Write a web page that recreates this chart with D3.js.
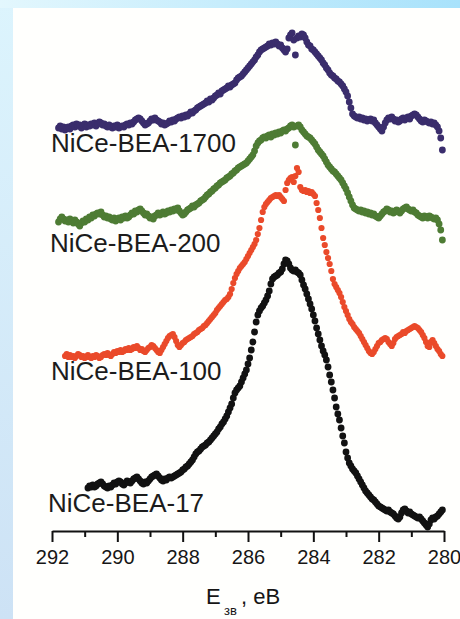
<!DOCTYPE html>
<html>
<head>
<meta charset="utf-8">
<script src="https://cdn.jsdelivr.net/npm/d3@7"></script>
<style>
  html, body { margin: 0; padding: 0; background: #fff; overflow: hidden; }
  svg { display: block; }
  text { font-family: "Liberation Sans", Arial, Helvetica, sans-serif; }
</style>
</head>
<body>
<svg id="chart" width="460" height="619"></svg>
<script>
// Binding energy grid of the C 1s scans, eV
const energy = [
  291.8,291.75,291.7,291.65,291.6,291.55,291.5,291.45,291.4,291.35,
  291.3,291.25,291.2,291.15,291.1,291.05,291,290.95,290.9,290.85,
  290.8,290.75,290.7,290.65,290.6,290.55,290.5,290.45,290.4,290.35,
  290.3,290.25,290.2,290.15,290.1,290.05,290,289.95,289.9,289.85,
  289.8,289.75,289.7,289.65,289.6,289.55,289.5,289.45,289.4,289.35,
  289.3,289.25,289.2,289.15,289.1,289.05,289,288.95,288.9,288.85,
  288.8,288.75,288.7,288.65,288.6,288.55,288.5,288.45,288.4,288.35,
  288.3,288.25,288.2,288.15,288.1,288.05,288,287.95,287.9,287.85,
  287.8,287.75,287.7,287.65,287.6,287.55,287.5,287.45,287.4,287.35,
  287.3,287.25,287.2,287.15,287.1,287.05,287,286.95,286.9,286.85,
  286.8,286.75,286.7,286.65,286.6,286.55,286.5,286.45,286.4,286.35,
  286.3,286.25,286.2,286.15,286.1,286.05,286,285.95,285.9,285.85,
  285.8,285.75,285.7,285.65,285.6,285.55,285.5,285.45,285.4,285.35,
  285.3,285.25,285.2,285.15,285.1,285.05,285,284.95,284.9,284.85,
  284.8,284.75,284.7,284.65,284.6,284.55,284.5,284.45,284.4,284.35,
  284.3,284.25,284.2,284.15,284.1,284.05,284,283.95,283.9,283.85,
  283.8,283.75,283.7,283.65,283.6,283.55,283.5,283.45,283.4,283.35,
  283.3,283.25,283.2,283.15,283.1,283.05,283,282.95,282.9,282.85,
  282.8,282.75,282.7,282.65,282.6,282.55,282.5,282.45,282.4,282.35,
  282.3,282.25,282.2,282.15,282.1,282.05,282,281.95,281.9,281.85,
  281.8,281.75,281.7,281.65,281.6,281.55,281.5,281.45,281.4,281.35,
  281.3,281.25,281.2,281.15,281.1,281.05,281,280.95,280.9,280.85,
  280.8,280.75,280.7,280.65,280.6,280.55,280.5,280.45,280.4,280.35,
  280.3,280.25,280.2,280.15,280.1,280.05
];

// Intensities (a.u., spectra stacked with vertical offsets); null = no point
const nice1700 = [
  403,405,402,404,401,403,404,402,405,406,
  404,407,405,406,403,405,407,404,406,405,
  407,406,408,405,407,409,408,406,407,405,
  404,406,404,403,405,404,406,403,404,405,
  404,406,407,406,408,407,409,411,412,413,
  412,410,408,406,407,408,410,412,411,413,
  411,410,409,407,408,406,407,408,410,409,
  411,410,412,413,414,413,415,414,416,415,
  417,419,418,420,421,423,424,425,426,427,
  428,430,429,432,431,433,435,436,438,437,
  440,441,442,443,445,444,446,447,448,451,
  453,454,455,457,459,461,463,465,467,469,
  471,474,476,479,481,482,483,484,485,487,
  486,488,487,489,487,485,486,483,481,479,
  482,493,496,498,491,476,493,495,494,497,
  496,493,489,486,485,482,481,479,477,475,
  473,471,468,466,463,461,458,456,455,453,
  452,450,449,447,445,442,439,435,429,423,
  417,415,414,413,414,412,413,411,412,410,
  411,412,410,411,408,406,404,402,400,404,
  408,411,413,412,414,412,410,411,409,410,
  412,413,411,413,414,412,415,416,417,416,
  414,412,410,409,411,410,409,408,409,407,
  408,406,404,400,393,381
];

const nice200 = [
  309,312,314,312,310,311,309,312,310,308,
  311,309,307,305,308,310,309,312,311,314,
  313,316,315,317,318,317,319,316,314,315,
  313,314,312,311,313,310,312,313,311,314,
  313,315,313,314,316,318,317,320,319,321,
  322,320,318,316,317,315,313,314,312,315,
  316,318,316,317,319,317,318,320,319,321,
  320,322,321,323,320,318,316,317,319,321,
  322,323,325,324,326,327,328,330,331,332,
  334,336,337,339,340,342,343,345,346,348,
  349,350,351,353,354,355,357,358,360,361,
  363,364,365,366,367,368,370,372,374,376,
  380,385,388,390,391,393,394,393,395,396,
  394,397,396,398,397,399,398,400,401,400,
  402,403,405,406,404,386,405,406,404,401,
  399,397,395,394,393,391,389,387,384,381,
  379,377,375,372,369,366,364,362,360,359,
  357,355,353,351,348,345,342,338,334,330,
  326,323,322,321,320,321,319,320,318,319,
  317,318,316,317,315,314,313,315,317,319,
  320,322,321,319,320,318,319,321,320,318,
  320,322,323,324,322,321,320,321,319,318,
  316,315,314,313,315,314,313,315,314,313,
  312,313,311,307,301,291
];

const nice100 = [
  null,null,null,null,175,177,174,176,174,175,
  173,175,177,176,174,175,173,174,176,174,
  173,175,174,176,175,173,174,176,177,176,
  178,176,175,177,179,178,180,179,181,179,
  180,182,181,183,181,182,184,183,185,183,
  181,182,180,179,181,183,184,186,185,183,
  181,179,178,181,184,187,190,193,195,196,
  197,194,190,186,184,186,188,189,191,192,
  193,194,195,197,198,199,201,202,203,205,
  206,208,210,212,214,216,218,221,223,225,
  227,229,231,232,234,237,242,248,253,257,
  260,263,265,267,269,272,275,278,281,284,
  287,291,297,303,311,319,324,327,329,331,
  333,334,335,336,335,336,334,332,330,341,
  348,351,353,354,349,355,363,359,344,341,
  340,341,339,340,338,339,337,335,328,321,
  313,303,293,286,279,273,267,260,252,247,
  244,241,238,234,229,224,220,216,212,209,
  207,204,202,200,198,195,192,189,186,183,
  180,178,177,179,182,185,188,189,191,192,
  193,192,189,187,185,188,192,194,195,196,
  197,199,198,200,201,202,203,204,205,204,
  203,201,199,196,193,189,185,184,189,191,
  188,185,182,180,177,175
];

const nice17 = [
  null,null,null,null,null,null,null,null,null,null,
  null,null,null,null,null,null,null,null,43,45,
  44,46,44,45,47,48,49,47,45,44,
  43,45,44,46,48,47,49,50,49,47,
  46,48,50,49,48,50,52,53,54,52,
  50,48,47,49,48,50,52,54,55,56,
  57,55,53,51,50,52,51,53,54,53,
  54,55,56,57,58,59,61,62,64,65,
  67,69,71,74,77,79,80,82,84,85,
  86,88,89,91,93,95,97,99,102,104,
  107,109,112,115,119,123,127,133,138,141,
  143,145,149,153,157,161,167,173,181,189,
  199,209,216,220,223,225,228,231,235,240,
  247,252,254,255,256,258,259,262,267,271,
  270,267,263,261,260,261,259,258,256,251,
  246,242,237,232,227,222,216,210,203,197,
  191,185,180,176,171,164,156,149,141,133,
  124,117,111,103,95,88,79,73,68,65,
  62,60,58,55,52,49,46,43,40,38,
  36,34,32,31,29,27,25,24,23,22,
  21,20,21,19,18,17,15,13,12,14,
  18,21,22,20,18,19,17,16,15,14,
  13,14,12,10,8,6,4,7,11,13,
  12,14,15,17,19,21
];

const seriesNames = ["NiCe-BEA-1700", "NiCe-BEA-200", "NiCe-BEA-100", "NiCe-BEA-17"];
const seriesValues = [nice1700, nice200, nice100, nice17];
const seriesColors = ["#3a2d6c", "#4e7c34", "#ea4a2a", "#121212"];
const seriesRadius = [3.4, 3.4, 3.1, 3.4];
const labelBaselines = [152, 252, 380, 512];
const labelX = [51, 50, 51, 48];

const majorTicks = [292, 290, 288, 286, 284, 282, 280];
const minorTicks = [291, 289, 287, 285, 283, 281];

const W = 460, H = 619;
const svg = d3.select("#chart");

// slide-style background: gradient frame with a white panel
const defs = svg.append("defs");
const gTop = defs.append("linearGradient").attr("id", "bgTop")
  .attr("x1", 0).attr("x2", 1).attr("y1", 0).attr("y2", 0);
gTop.append("stop").attr("offset", 0).attr("stop-color", "#e3f7fd");
gTop.append("stop").attr("offset", 1).attr("stop-color", "#a8e2fb");
const gLeft = defs.append("linearGradient").attr("id", "bgLeft")
  .attr("x1", 0).attr("x2", 0).attr("y1", 0).attr("y2", 1);
gLeft.append("stop").attr("offset", 0).attr("stop-color", "#dcf4fd");
gLeft.append("stop").attr("offset", 1).attr("stop-color", "#cde2f5");

svg.append("rect").attr("width", W).attr("height", H).attr("fill", "url(#bgLeft)");
svg.append("rect").attr("width", W).attr("height", 8).attr("fill", "url(#bgTop)");
svg.append("rect").attr("x", 13).attr("y", 8).attr("width", W - 13).attr("height", H - 8)
  .attr("fill", "#fffffd");

const x = d3.scaleLinear().domain([292, 280]).range([52, 444]);
const y = d3.scaleLinear().domain([0, 500]).range([531, 31]);
const axisY = y(0);

// spectra as dots
seriesValues.forEach((vals, si) => {
  const pts = energy.map((e, i) => ({ e, v: vals[i] })).filter(d => d.v != null);
  svg.append("g")
    .attr("fill", seriesColors[si])
    .selectAll("circle")
    .data(pts)
    .join("circle")
    .attr("cx", d => x(d.e))
    .attr("cy", d => y(d.v))
    .attr("r", seriesRadius[si]);
});

// sample labels
svg.append("g").selectAll("text")
  .data(seriesNames)
  .join("text")
  .attr("x", (d, i) => labelX[i])
  .attr("y", (d, i) => labelBaselines[i])
  .attr("font-size", 26)
  .attr("fill", "#1c1c1c")
  .text(d => d);

// x axis: minor ticks, then major ticks with labels
const gMinor = svg.append("g")
  .attr("transform", `translate(0,${axisY})`)
  .call(d3.axisBottom(x).tickValues(minorTicks).tickSize(6).tickSizeOuter(0).tickFormat(""));
gMinor.select(".domain").remove();
gMinor.selectAll(".tick line").attr("stroke", "#111").attr("stroke-width", 2);

const gMajor = svg.append("g")
  .attr("transform", `translate(0,${axisY})`)
  .call(d3.axisBottom(x).tickValues(majorTicks).tickSize(11).tickSizeOuter(0).tickFormat(d3.format("d")));
gMajor.select(".domain").attr("stroke", "#111").attr("stroke-width", 2);
gMajor.selectAll(".tick line").attr("stroke", "#111").attr("stroke-width", 2);
gMajor.selectAll(".tick text")
  .attr("y", 33).attr("dy", 0)
  .attr("font-size", 20)
  .attr("font-family", "\"Liberation Sans\", Arial, sans-serif")
  .attr("fill", "#161616");

// axis title: E with subscript "зв"
const title = svg.append("g").attr("fill", "#161616");
title.append("text").attr("x", 206).attr("y", 604).attr("font-size", 22).text("E");
title.append("text").attr("x", 224).attr("y", 615).attr("font-size", 13).text("зв");
title.append("text").attr("x", 241).attr("y", 604).attr("font-size", 22).text(", eB");
</script>
</body>
</html>
